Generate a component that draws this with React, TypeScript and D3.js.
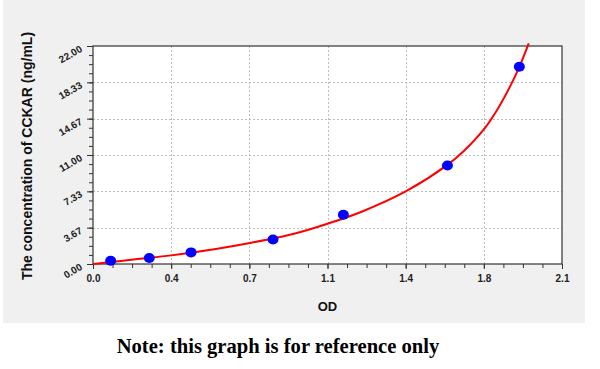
import React, { useRef, useEffect } from "react";
import * as d3 from "d3";

// standards
const odValues = [0.079, 0.252, 0.439, 0.806, 1.121, 1.587, 1.909];
const concValues = [0.33, 0.6, 1.17, 2.48, 4.97, 9.94, 19.91];

// fitted curve
const curveOd = [0, 0.2, 0.35, 0.55, 0.703, 0.9, 1.05, 1.2, 1.4, 1.587, 1.658, 1.748, 1.808, 1.867, 1.909, 1.951];
const curveConc = [0, 0.5, 0.87, 1.52, 2.12, 3.05, 4.06, 5.25, 7.32, 10.0, 11.35, 13.53, 15.5, 17.9, 19.9, 22.27];

const xTicks = [0, 0.35, 0.7, 1.05, 1.4, 1.75, 2.1];
const xTickLabels = ["0.0", "0.4", "0.7", "1.1", "1.4", "1.8", "2.1"];
const yTicks = [0, 3.667, 7.333, 11, 14.667, 18.333, 22];
const yTickLabels = ["0.00", "3.67", "7.33", "11.00", "14.67", "18.33", "22.00"];

const W = 600;
const H = 369;
const margin = { top: 46, right: 38, bottom: 105, left: 93 };
const sans = "'Liberation Sans', Arial, sans-serif";

export default function App() {
  const svgRef = useRef<SVGSVGElement | null>(null);

  useEffect(() => {
    const svg = d3.select(svgRef.current);
    svg.selectAll("*").remove();

    const x = d3.scaleLinear().domain([0, 2.1]).range([margin.left, W - margin.right]);
    const y = d3.scaleLinear().domain([0, 22]).range([H - margin.bottom, margin.top]);

    // background panel
    svg.append("rect").attr("width", W).attr("height", H).attr("fill", "#fff");
    svg.append("rect").attr("x", 3).attr("y", 0).attr("width", 582).attr("height", 323).attr("fill", "#f0f0f0");

    // plot area
    svg.append("rect")
      .attr("x", x(0)).attr("y", y(22))
      .attr("width", x(2.1) - x(0)).attr("height", y(0) - y(22))
      .attr("fill", "#fff");

    // grid
    const grid = svg.append("g").attr("stroke", "#bdbdbd").attr("stroke-dasharray", "2,2").attr("stroke-width", 1);
    grid.selectAll("line.v").data(xTicks.slice(1, -1)).join("line")
      .attr("x1", (d) => Math.round(x(d)) + 0.5).attr("x2", (d) => Math.round(x(d)) + 0.5)
      .attr("y1", y(0)).attr("y2", y(22));
    grid.selectAll("line.h").data(yTicks.slice(1, -1)).join("line")
      .attr("y1", (d) => Math.round(y(d)) + 0.5).attr("y2", (d) => Math.round(y(d)) + 0.5)
      .attr("x1", x(0)).attr("x2", x(2.1));

    // x axis
    const xMinor = d3.range(0, 24).map((i) => i * 0.0875 + 0.0875).filter((v) => v < 2.1);
    const xAxis = svg.append("g").attr("transform", `translate(0,${y(0)})`);
    xAxis.call(d3.axisBottom(x).tickValues(xMinor).tickSize(4).tickFormat(() => ""));
    xAxis.append("g").call(
      d3.axisBottom(x).tickValues(xTicks).tickSize(5)
        .tickFormat((_, i) => xTickLabels[i])
    );
    xAxis.selectAll(".domain").remove();
    xAxis.selectAll("line").attr("stroke", "#333");
    xAxis.selectAll("text")
      .attr("font-family", sans).attr("font-size", 10).attr("font-weight", "bold")
      .attr("fill", "#222").attr("dy", "0.95em");

    // y axis
    const yMinor = d3.range(1, 24).map((i) => (i * 22) / 24).filter((v) => v < 22);
    const yAxis = svg.append("g").attr("transform", `translate(${x(0)},0)`);
    yAxis.call(d3.axisLeft(y).tickValues(yMinor).tickSize(4).tickFormat(() => ""));
    yAxis.append("g").call(d3.axisLeft(y).tickValues(yTicks).tickSize(6).tickFormat(() => ""));
    yAxis.selectAll(".domain").remove();
    yAxis.selectAll("line").attr("stroke", "#333");
    svg.append("g").selectAll("text").data(yTicks).join("text")
      .attr("transform", (d) => `translate(${x(0) - 10},${y(d) + 5}) rotate(-30)`)
      .attr("text-anchor", "end")
      .attr("font-family", sans).attr("font-size", 10).attr("font-weight", "bold").attr("fill", "#222")
      .text((_, i) => yTickLabels[i]);

    // frame
    svg.append("rect")
      .attr("x", x(0)).attr("y", y(22))
      .attr("width", x(2.1) - x(0)).attr("height", y(0) - y(22))
      .attr("fill", "none").attr("stroke", "#333").attr("stroke-width", 1.2);

    // fitted curve
    const line = d3.line<number>()
      .x((d) => x(d))
      .y((_, i) => y(curveConc[i]))
      .curve(d3.curveCatmullRom.alpha(0.5));
    svg.append("path").attr("d", line(curveOd))
      .attr("fill", "none").attr("stroke", "#ff0000").attr("stroke-width", 2);

    // points
    svg.append("g").selectAll("ellipse").data(odValues).join("ellipse")
      .attr("cx", (d) => x(d)).attr("cy", (_, i) => y(concValues[i]))
      .attr("rx", 5.5).attr("ry", 5).attr("fill", "#0000ff");

    // labels
    svg.append("text")
      .attr("x", x(1.05)).attr("y", 311)
      .attr("text-anchor", "middle")
      .attr("font-family", sans).attr("font-size", 13).attr("font-weight", "bold").attr("fill", "#111")
      .text("OD");
    svg.append("text")
      .attr("transform", `translate(32,156) rotate(-90)`)
      .attr("text-anchor", "middle")
      .attr("font-family", sans).attr("font-size", 14).attr("font-weight", "bold").attr("fill", "#111")
      .text("The concentration of CCKAR (ng/mL)");
    svg.append("text")
      .attr("x", 278).attr("y", 353)
      .attr("text-anchor", "middle")
      .attr("font-family", "'Liberation Serif', 'DejaVu Serif', serif").attr("font-size", 20.6).attr("font-weight", "bold").attr("fill", "#000")
      .text("Note: this graph is for reference only");
  }, []);

  return (
    <svg ref={svgRef} width={W} height={H} style={{ position: "absolute", left: 0, top: 0 }} />
  );
}
